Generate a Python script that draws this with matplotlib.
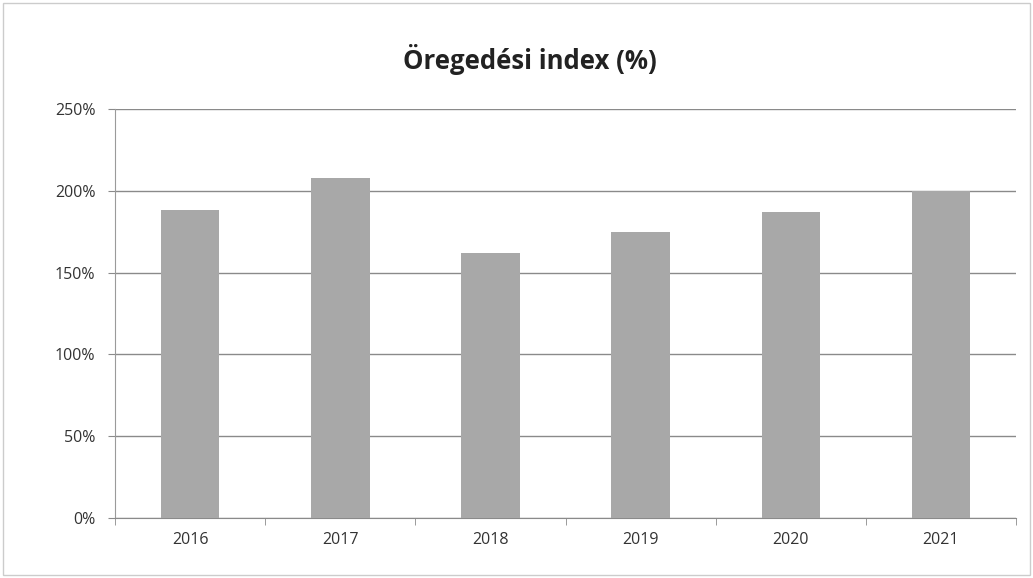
import matplotlib.pyplot as plt
import matplotlib.ticker as mticker
import numpy as np

plt.rcParams['font.family'] = ['Open Sans', 'DejaVu Sans']

# Data
years = ['2016', '2017', '2018', '2019', '2020', '2021']
aging_index = [188, 208, 162, 175, 187, 200]  # percent

fig = plt.figure(figsize=(10.33, 5.78), dpi=100)
ax = fig.add_axes([0.1113, 0.1038, 0.8723, 0.7076])

x = np.arange(len(years))
ax.bar(x, aging_index, width=0.39, color='#a8a8a8', zorder=3)

ax.set_xlim(-0.5, len(years) - 0.5)
ax.set_ylim(0, 250)
ax.set_yticks(np.arange(0, 251, 50))
ax.yaxis.set_major_formatter(mticker.FuncFormatter(lambda v, p: f"{int(v)}%"))
ax.set_xticks(x)
ax.set_xticklabels(years)
ax.set_xticks(np.arange(-0.5, len(years), 1), minor=True)

ax.grid(axis='y', color='#8a8a8a', linewidth=1.0, zorder=0)
for side in ['top', 'right']:
    ax.spines[side].set_visible(False)
ax.spines['left'].set_color('#9a9a9a')
ax.spines['bottom'].set_color('#8a8a8a')
ax.tick_params(axis='y', length=5, color='#8a8a8a', labelsize=11.5, labelcolor='#333333', pad=9)
ax.tick_params(axis='x', which='major', length=0, labelsize=11.5, labelcolor='#333333', pad=10)
ax.tick_params(axis='x', which='minor', length=5, color='#8a8a8a')

fig.text(0.513, 0.897, 'Öregedési index (%)', ha='center', va='center',
         fontsize=18.5, fontweight='bold', color='#222222')

# light outer border of the chart
border = plt.Rectangle((0.003, 0.005), 0.994, 0.99, transform=fig.transFigure,
                       fill=False, edgecolor='#cccccc', linewidth=1)
fig.patches.append(border)

fig.savefig('out.png', dpi=100)
